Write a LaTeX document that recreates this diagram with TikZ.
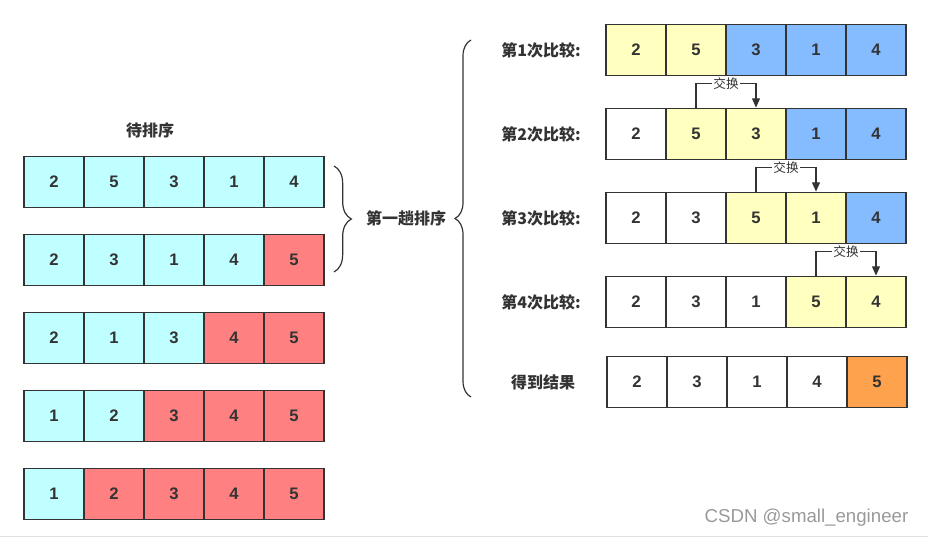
\documentclass[tikz,border=0pt]{standalone}
\usepackage{fontspec}
\setmainfont{Liberation Sans}
\newfontfamily\cjk{Noto Sans CJK SC}
\usetikzlibrary{arrows.meta,decorations.pathreplacing,positioning}

\definecolor{cyancell}{HTML}{C0FFFF}
\definecolor{redcell}{HTML}{FF8080}
\definecolor{yellowcell}{HTML}{FFFFC0}
\definecolor{bluecell}{HTML}{85BBFF}
\definecolor{orangecell}{HTML}{FFA24D}
\definecolor{ink}{HTML}{333333}

\tikzset{
  cell/.style={draw=ink, line width=1.1pt, minimum width=45pt, minimum height=38.5pt,
    inner sep=0pt, text=ink, font=\fontsize{12.5}{14}\selectfont\bfseries},
  lbl/.style={text=ink, font=\cjk\fontsize{12}{14}\selectfont\bfseries},
  swap/.style={-{Triangle[length=7pt,width=6pt]}, line width=0.9pt, draw=ink},
  swaplbl/.style={fill=white, inner sep=1pt, text=ink, font=\cjk\fontsize{9.5}{11}\selectfont},
  bracket/.style={decorate, line width=0.9pt, draw=ink},
}

\begin{document}
\begin{tikzpicture}[x=0.75pt,y=-0.75pt]
        \useasboundingbox (0,0) rectangle (928,538);
        % Draw the unsorted rows on the left
        \node[lbl] (wait) at (150,130) {待排序};
        \foreach \r/\a/\b/\c/\d/\e/\k in {1/2/5/3/1/4/0, 2/2/3/1/4/5/1, 3/2/1/3/4/5/2,
                                           4/1/2/3/4/5/3, 5/1/2/3/4/5/4} {
            \foreach \v [count=\j] in {\a,\b,\c,\d,\e} {
                \ifnum\j>\numexpr5-\k\relax \def\cf{redcell}\else \def\cf{cyancell}\fi
                \node[cell, fill=\cf] (l\r\j) at ({54+60*(\j-1)}, {182+78*(\r-1)}) {\v};
            }
        }
        % Draw the first pass brace
        \coordinate (b1) at (334,166);
        \coordinate (b2) at (334,272);
        \draw[bracket, decoration={brace, amplitude=13pt}] (b1) -- (b2);
        \node[lbl] (pass) at (406,218) {第一趟排序};
        \coordinate (B1) at (471,397);
        \coordinate (B2) at (471,40);
        \draw[bracket, decoration={brace, amplitude=12pt}] (B1) -- (B2);
        % Draw the comparison rows on the right
        \foreach \r/\a/\b/\c/\d/\e in {1/2/5/3/1/4, 2/2/5/3/1/4, 3/2/3/5/1/4, 4/2/3/1/5/4} {
            \node[lbl] (q\r) at (541, {50+84*(\r-1)}) {第\r 次比较:};
            \foreach \v [count=\j] in {\a,\b,\c,\d,\e} {
                \ifnum\j<\r \def\cf{white}\else
                  \ifnum\j>\numexpr\r+1\relax \def\cf{bluecell}\else \def\cf{yellowcell}\fi
                \fi
                \node[cell, fill=\cf] (r\r\j) at ({636+60*(\j-1)}, {50+84*(\r-1)}) {\v};
            }
        }
        % Draw the result row
        \node[lbl] (res) at (543,382) {得到结果};
        \foreach \v [count=\j] in {2,3,1,4,5} {
            \ifnum\j=5 \def\cf{orangecell}\else \def\cf{white}\fi
            \node[cell, fill=\cf] (r5\j) at ({637+60*(\j-1)}, 382) {\v};
        }
        % Draw the swaps
        \foreach \r in {2,3,4} {
            \pgfmathtruncatemacro\nx{\r+1}
            \draw[swap] (r\r\r.north) -- ++(0,-24) -| (r\r\nx.north)
                node[swaplbl, pos=0.25] (s\r) {交换};
        }
        % Watermark
        \node[anchor=east, text=black!40, font=\fontsize{14}{16}\selectfont] (mark) at (913,518) {CSDN @small\_engineer};
        \draw[black!12, line width=1pt] (0,536.5) -- (928,536.5);
    \end{tikzpicture}
\end{document}
